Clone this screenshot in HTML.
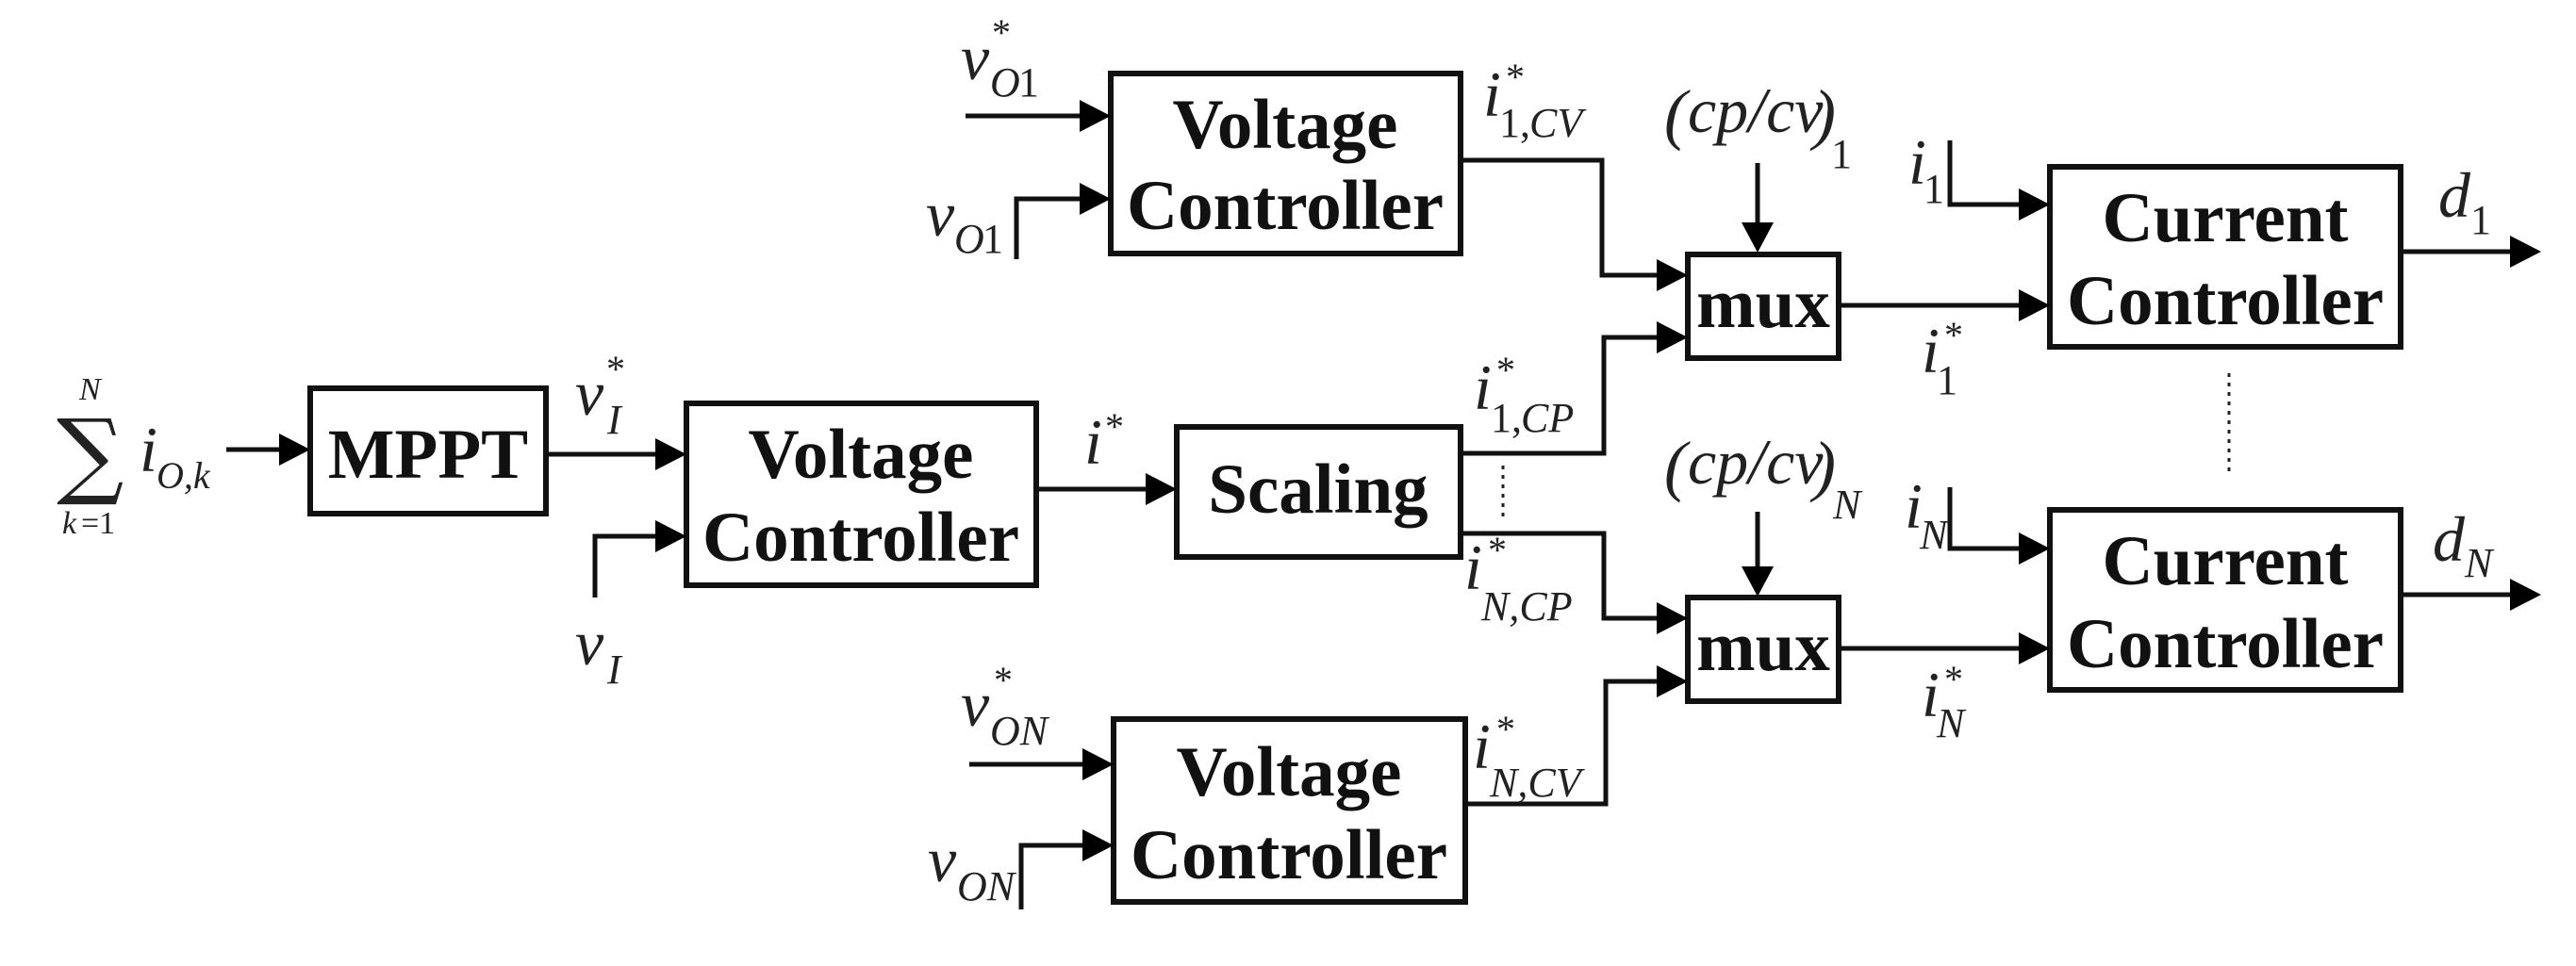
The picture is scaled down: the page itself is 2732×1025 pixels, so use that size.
<!DOCTYPE html>
<html><head><meta charset="utf-8"><style>
html,body{margin:0;padding:0;background:#fff;}
svg{display:block;}
.b{font-family:"Liberation Serif",serif;font-weight:bold;font-size:75px;text-anchor:middle;fill:#111;}
.m{font-family:"Liberation Serif",serif;font-style:italic;font-size:68px;fill:#222;}
.s{font-family:"Liberation Serif",serif;font-style:italic;font-size:44px;fill:#222;}
.u{font-family:"Liberation Serif",serif;font-size:44px;fill:#222;}
.a{font-family:"Liberation Serif",serif;font-size:40px;fill:#222;}
</style></head><body>
<svg width="2732" height="1025" viewBox="0 0 2732 1025" xmlns="http://www.w3.org/2000/svg">
<g fill="none" stroke="#111" stroke-width="6">
<rect x="1178" y="78" width="371" height="191"/>
<rect x="329" y="412" width="250" height="133"/>
<rect x="728" y="428" width="371" height="193"/>
<rect x="1248" y="453" width="301" height="138"/>
<rect x="1181" y="763" width="373" height="194"/>
<rect x="1790" y="270" width="160" height="110"/>
<rect x="1790" y="634" width="160" height="110"/>
<rect x="2174" y="177" width="372" height="191"/>
<rect x="2174" y="541" width="372" height="191"/>
</g>
<g fill="none" stroke="#111" stroke-width="5">
<path d="M240 477H300"/>
<path d="M579 482H700"/>
<path d="M631 634V569H700"/>
<path d="M1099 519H1220"/>
<path d="M1024 123H1150"/>
<path d="M1078 275V211H1150"/>
<path d="M1028 811H1153"/>
<path d="M1083 965V897H1153"/>
<path d="M1549 170H1699V292H1760"/>
<path d="M1549 481H1701V358H1760"/>
<path d="M1549 566H1701V656H1760"/>
<path d="M1554 853H1703V723H1760"/>
<path d="M1950 324H2145"/>
<path d="M1950 688H2145"/>
<path d="M2068 149V217H2145"/>
<path d="M2068 517V582H2145"/>
<path d="M2546 267H2665"/>
<path d="M2546 631H2665"/>
<path d="M1864 173V240"/>
<path d="M1864 543V605"/>
</g>
<g fill="none" stroke="#222" stroke-width="3" stroke-dasharray="4 6">
<path d="M1594 494V552"/>
<path d="M2364 396V504"/>
</g>
<g fill="#000">
<polygon points="296,460 329,477 296,494"/>
<polygon points="695,465 728,482 695,499"/>
<polygon points="695,552 728,569 695,586"/>
<polygon points="1215,502 1248,519 1215,536"/>
<polygon points="1145,106 1178,123 1145,140"/>
<polygon points="1145,194 1178,211 1145,228"/>
<polygon points="1148,794 1181,811 1148,828"/>
<polygon points="1148,880 1181,897 1148,914"/>
<polygon points="1757,275 1790,292 1757,309"/>
<polygon points="1757,341 1790,358 1757,375"/>
<polygon points="1757,639 1790,656 1757,673"/>
<polygon points="1757,706 1790,723 1757,740"/>
<polygon points="2141,307 2174,324 2141,341"/>
<polygon points="2141,671 2174,688 2141,705"/>
<polygon points="2141,200 2174,217 2141,234"/>
<polygon points="2141,565 2174,582 2141,599"/>
<polygon points="2662,250 2695,267 2662,284"/>
<polygon points="2662,614 2695,631 2662,648"/>
<polygon points="1847,236 1864,268 1881,236"/>
<polygon points="1847,601 1864,633 1881,601"/>
</g>
<text class="b" x="1363" y="157">Voltage</text>
<text class="b" x="1363" y="243">Controller</text>
<text class="b" x="454" y="507">MPPT</text>
<text class="b" x="913" y="507">Voltage</text>
<text class="b" x="913" y="595">Controller</text>
<text class="b" x="1398" y="544">Scaling</text>
<text class="b" x="1367" y="844">Voltage</text>
<text class="b" x="1367" y="932">Controller</text>
<text class="b" x="1870" y="347">mux</text>
<text class="b" x="1870" y="711">mux</text>
<text class="b" x="2360" y="256">Current</text>
<text class="b" x="2360" y="344">Controller</text>
<text class="b" x="2360" y="620">Current</text>
<text class="b" x="2360" y="708">Controller</text>
<!-- sum -->
<text x="60" y="516" style="font-family:'DejaVu Serif',serif;font-size:100px;fill:#222">∑</text>
<text class="s" x="84" y="424" style="font-size:34px">N</text>
<text class="s" x="66" y="566" style="font-size:34px">k</text><text class="u" x="86" y="566" style="font-size:34px">=1</text>
<text class="m" x="148" y="500">i</text><text class="s" x="166" y="518" style="font-size:40px">O,k</text>
<!-- vO1* -->
<text class="a" x="1052" y="48">*</text>
<text class="m" x="1019" y="84">v</text><text class="s" x="1050" y="102">O</text><text class="u" x="1080" y="102">1</text>
<text class="m" x="982" y="250">v</text><text class="s" x="1012" y="268">O</text><text class="u" x="1042" y="268">1</text>
<!-- vI* -->
<text class="a" x="643" y="405">*</text>
<text class="m" x="610" y="440">v</text><text class="s" x="644" y="460">I</text>
<text class="m" x="610" y="705">v</text><text class="s" x="644" y="725">I</text>
<text class="m" x="1150" y="492">i</text><text class="a" x="1172" y="466">*</text>
<!-- vON* -->
<text class="a" x="1054" y="735">*</text>
<text class="m" x="1019" y="770">v</text><text class="s" x="1050" y="790">ON</text>
<text class="m" x="984" y="935">v</text><text class="s" x="1015" y="955">ON</text>
<!-- i labels -->
<text class="m" x="1573" y="123">i</text><text class="a" x="1597" y="95">*</text><text class="u" x="1590" y="145">1,</text><text class="s" x="1622" y="145">CV</text>
<text class="m" x="1563" y="434">i</text><text class="a" x="1587" y="406">*</text><text class="u" x="1581" y="458">1,</text><text class="s" x="1613" y="458">CP</text>
<text class="m" x="1553" y="625">i</text><text class="a" x="1578" y="597">*</text><text class="s" x="1571" y="658">N,CP</text>
<text class="m" x="1562" y="815">i</text><text class="a" x="1587" y="787">*</text><text class="s" x="1580" y="845">N,CV</text>
<!-- cp/cv -->
<text class="m" x="1765" y="145" style="font-size:72px">(</text><text class="m" x="1790" y="140">cp/cv</text><text class="m" x="1923" y="145" style="font-size:72px">)</text><text class="u" x="1942" y="178">1</text>
<text class="m" x="1765" y="518" style="font-size:72px">(</text><text class="m" x="1790" y="513">cp/cv</text><text class="m" x="1923" y="518" style="font-size:72px">)</text><text class="s" x="1944" y="550">N</text>
<!-- CC labels -->
<text class="m" x="2024" y="195">i</text><text class="u" x="2040" y="215">1</text>
<text class="m" x="2020" y="560">i</text><text class="s" x="2036" y="582">N</text>
<text class="m" x="2038" y="395">i</text><text class="a" x="2062" y="369">*</text><text class="u" x="2054" y="418">1</text>
<text class="m" x="2038" y="760">i</text><text class="a" x="2062" y="734">*</text><text class="s" x="2054" y="782">N</text>
<text class="m" x="2586" y="230">d</text><text class="u" x="2620" y="248">1</text>
<text class="m" x="2580" y="595">d</text><text class="s" x="2614" y="612">N</text>
</svg>
</body></html>
